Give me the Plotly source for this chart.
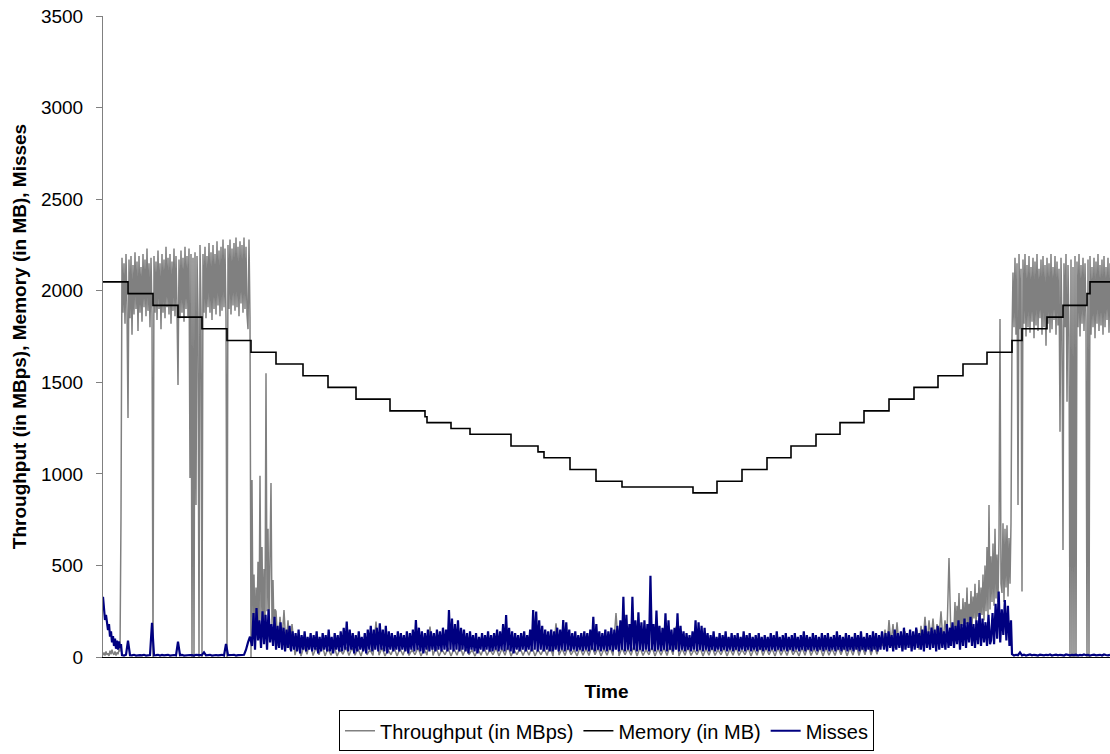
import numpy as np
import plotly.graph_objects as go

# ---------------- data ----------------
# Memory (in MB): step changes at these sample times
memory_t = [0, 25, 50, 75, 99, 124, 148, 173, 200, 225, 253, 287, 322, 324, 348, 367,
            408, 435, 441, 467, 493, 519, 590, 614, 639, 664, 688, 713, 737, 761, 786,
            811, 835, 860, 884, 909, 919, 944, 960, 984, 987, 1007]
memory_mb = [2048, 1984, 1920, 1856, 1792, 1728, 1664, 1600, 1536, 1472, 1408, 1344,
             1312, 1280, 1248, 1216, 1152, 1120, 1088, 1024, 960, 928, 896, 960, 1024,
             1088, 1152, 1216, 1280, 1344, 1408, 1472, 1536, 1600, 1664, 1728, 1792,
             1856, 1920, 1984, 2048, 2048]

# Throughput (in MBps), in time segments (start, end, values)
thr_a_span = (0, 17)
thr_a = [10, 25, 8, 30, 12, 20, 6, 35, 15, 40, 20, 12, 30, 8, 25, 15, 40, 30]
thr_b_span = (18, 148)
thr_b = [766, 2180, 1880, 2150, 1820, 2200, 1900, 1305, 2170, 1850,
         2190, 1760, 2140, 1870, 2210, 1900, 2160, 1780, 2190, 1880,
         2130, 1830, 2200, 1910, 2170, 1860, 2230, 1890, 2150, 1800,
         2180, 1870, 0, 2190, 1880, 2160, 1840, 2220, 1900, 2150,
         1790, 2200, 1880, 2170, 1850, 2240, 1910, 2180, 1870, 2200,
         1820, 2160, 1890, 2230, 1860, 2190, 1900, 1485, 2170, 1850,
         2220, 1880, 2180, 1830, 2240, 1900, 2190, 1860, 2230, 977,
         2200, 0, 2180, 0, 2210, 830, 2190, 1870, 0, 2250,
         1900, 0, 2200, 1880, 2240, 1850, 2190, 1910, 2260, 1880,
         2210, 1840, 2250, 1900, 2200, 1870, 2270, 1920, 2220, 1860,
         2240, 1890, 2280, 1910, 2230, 1850, 0, 2250, 1900, 2280,
         1870, 2230, 1920, 2260, 1890, 2290, 1910, 2240, 1860, 2270,
         1930, 2250, 1880, 2290, 1900, 2240, 1870, 1790, 2280, 1850, 0]
thr_c_span = (149, 172)
thr_c = [966, 120, 450, 80, 380, 150, 520, 100, 990, 200, 600, 130, 480, 160, 1550,
         250, 700, 140, 560, 950, 180, 420, 120, 260]
thr_d1_span = (173, 191)
thr_d1 = [250, 60, 220, 80, 257, 50, 200, 40, 180, 30]
thr_d2_span = (192, 777)
thr_d2 = [10, 80, 5, 60, 15, 90, 8, 50, 12, 70, 6, 45, 10, 60, 5, 40, 15, 55, 8, 50,
          10, 45, 5, 60, 12, 40, 8, 193, 10, 50, 6, 40, 12, 55, 5, 45, 10, 60, 8, 40,
          12, 50, 5, 45, 10, 166, 8, 55, 6, 40, 12, 50, 5, 45, 10, 60, 8, 50, 12, 40,
          5, 45, 10, 55, 8, 40, 12, 50, 6, 45, 10, 60, 5, 40, 12, 50, 8, 45, 10, 55,
          6, 40, 12, 50, 8, 60, 5, 184, 10, 45, 8, 55, 12, 40, 6, 50, 10, 45, 8, 60,
          12, 50, 5, 45, 10, 55, 8, 240, 6, 50, 12, 45, 10, 60, 5, 50, 8, 40, 12, 55,
          6, 45, 10, 50, 8, 60, 12, 166, 5, 45, 10, 55, 8, 40, 12, 50, 6, 45, 10, 55,
          8, 40, 12, 50, 5, 45, 10, 55, 8, 40, 12, 50, 6, 45, 10, 60, 8, 50, 12, 45,
          5, 50, 10, 45, 8, 55, 12, 40, 6, 50, 10, 60, 8, 45, 12, 55, 5, 50, 10, 45,
          8, 55, 12, 60, 6, 50, 10, 70, 8, 60, 12, 80, 10, 70, 15, 90]
thr_e1_span = (780, 848)
thr_e1 = [60, 150, 40, 202, 70, 180, 50, 190, 60, 120, 40, 140, 70, 110, 50, 130, 60,
          150, 40, 170, 80, 220, 60, 200, 90, 210, 70, 180, 100, 250, 80, 200, 120,
          540, 90]
thr_e2_span = (851, 908)
thr_e2 = [150, 300, 120, 280, 160, 350, 130, 260, 170, 320, 140, 300, 180, 380, 150,
          290, 200, 360, 160, 330, 210, 400, 170, 350, 220, 420, 180, 380, 230, 450,
          200, 500, 250, 600, 230, 830, 260, 550, 300, 620, 280, 700, 320, 560, 300,
          650, 1845, 400, 350, 730, 300, 700, 380, 720, 330, 650, 400, 730]
thr_f_span = (909, 1007)
thr_f = [1750, 2100, 1800, 2180, 1760, 2150, 830, 2200, 1790, 2120,
         357, 2170, 1820, 2200, 1750, 2140, 1800, 2190, 1770, 2130,
         1830, 2180, 1740, 2160, 1810, 2200, 1780, 2120, 1850, 2170,
         1760, 2190, 1800, 2140, 1700, 2180, 1820, 2150, 1770, 2200,
         1790, 2130, 1840, 2190, 1760, 2160, 1810, 2120, 1230, 2180,
         1780, 584, 2150, 1800, 2200, 1394, 2140, 1760, 0, 2170,
         0, 2130, 0, 2190, 0, 2160, 1800, 2200, 1750, 2140,
         1820, 2180, 1780, 2150, 1830, 0, 2170, 0, 2190, 1760,
         2130, 1800, 2180, 1740, 2160, 1820, 2200, 1780, 2140, 1810,
         2170, 1760, 2190, 1800, 2130, 1840, 2180, 1770, 2150]

# Misses, in time segments
mis_a_span = (0, 18)
mis_a = [329, 260, 202, 230, 170, 147, 180, 111, 140, 80, 114, 60, 100, 45, 90, 40, 85, 50, 70]
mis_b_span = (19, 147)
mis_b = [10, 8, 12, 89, 10, 9, 12, 8, 11, 10, 9, 12, 8, 10, 11, 187, 9, 10, 12, 8,
         11, 9, 10, 12, 8, 10, 11, 9, 84, 10, 12, 8, 10, 9, 11, 10, 8, 12, 9, 10,
         11, 25, 9, 10, 12, 8, 10, 11, 9, 10, 12, 8, 71, 10, 9, 11, 12, 8, 10, 9,
         11, 12, 40, 80, 111]
mis_c_span = (149, 779)
mis_c = [60, 240, 40, 267, 90, 200, 50, 250, 70, 230, 40, 260, 80, 180, 60, 220, 40, 170, 50, 190,
         40, 160, 30, 150, 50, 170, 30, 140, 40, 130, 30, 150, 20, 120, 40, 140, 30, 110, 40, 130,
         30, 120, 40, 140, 20, 110, 30, 130, 40, 120, 30, 150, 30, 110, 20, 130, 40, 120, 30, 140,
         30, 160, 40, 193, 30, 150, 40, 130, 20, 120, 30, 140, 40, 110, 30, 130, 20, 150, 40, 170,
         30, 150, 40, 160, 30, 184, 40, 150, 30, 170, 20, 140, 40, 130, 30, 120, 40, 140, 30, 130,
         40, 120, 30, 140, 20, 130, 40, 150, 30, 202, 40, 160, 30, 140, 20, 130, 40, 150, 30, 140,
         40, 130, 30, 150, 40, 140, 30, 160, 40, 150, 30, 257, 40, 210, 30, 180, 40, 200, 30, 160,
         40, 150, 30, 130, 20, 140, 40, 120, 30, 130, 20, 110, 40, 130, 30, 120, 40, 140, 30, 120,
         30, 130, 40, 150, 30, 140, 40, 180, 30, 229, 40, 160, 30, 140, 20, 130, 40, 120, 30, 130,
         40, 140, 30, 120, 40, 150, 30, 257, 40, 248, 30, 200, 40, 170, 30, 150, 40, 140, 30, 150,
         30, 140, 40, 160, 30, 150, 40, 202, 30, 190, 40, 150, 30, 130, 40, 140, 30, 120, 40, 130,
         30, 140, 40, 130, 30, 150, 40, 220, 30, 180, 40, 140, 30, 130, 40, 150, 30, 140, 40, 160,
         30, 150, 40, 170, 30, 200, 40, 329, 30, 230, 40, 180, 30, 329, 40, 200, 30, 244, 40, 190,
         30, 200, 40, 180, 30, 444, 40, 180, 30, 253, 40, 170, 30, 160, 40, 238, 30, 200, 40, 150,
         30, 160, 40, 238, 30, 170, 40, 140, 30, 130, 40, 120, 30, 140, 40, 200, 30, 190, 40, 170,
         30, 160, 40, 130, 30, 120, 40, 140, 30, 110, 40, 130, 30, 120, 40, 140, 30, 110, 40, 130,
         30, 120, 40, 130, 30, 110, 40, 140, 30, 120, 40, 130, 30, 110, 40, 120, 30, 130, 40, 110,
         30, 120, 40, 110, 30, 130, 40, 120, 30, 140, 40, 110, 30, 120, 40, 130, 30, 110, 40, 120,
         30, 130, 40, 110, 30, 120, 40, 140, 30, 120, 40, 110, 30, 130, 40, 120, 30, 110, 40, 130,
         30, 120, 40, 130, 30, 110, 40, 120, 30, 140, 40, 120, 30, 110, 40, 130, 30, 120, 40, 110,
         30, 130, 40, 120, 30, 140, 40, 110, 30, 130, 40, 120, 30, 140, 40, 130, 30, 120, 40, 140]
mis_d1_span = (781, 847)
mis_d1 = [40, 130, 30, 140, 50, 120, 30, 150, 40, 130, 50, 140, 30, 160, 40, 130, 50, 150,
          30, 140, 40, 160, 50, 130, 40, 150, 30, 170, 50, 140, 40, 160, 50, 150, 30, 170,
          40, 160, 50, 140, 40, 180, 50, 160]
mis_d2_span = (848, 887)
mis_d2 = [60, 190, 50, 170, 70, 200, 40, 180, 60, 210, 50, 190, 80, 220, 60, 180, 50, 200,
          70, 240, 60, 210, 80, 190, 60, 230, 70]
mis_d3_span = (888, 908)
mis_d3 = [90, 240, 70, 290, 100, 357, 80, 260, 120, 311, 90, 280, 60, 200]
mis_e_span = (909, 1007)
mis_e = [15, 8, 12, 10, 25, 9, 13, 8, 11, 14, 9, 12, 10, 8, 13, 11, 9, 12, 10, 14,
         8, 11, 13, 9, 12, 10, 8, 14, 11, 9, 12, 10, 13, 8, 11, 9, 14, 10, 12, 8,
         11, 13, 9, 10, 12, 8, 14, 11, 9, 12]

y_ticks = [0, 500, 1000, 1500, 2000, 2500, 3000, 3500]


def assemble(parts):
    xs, ys = [], []
    for (t0, t1), vals in parts:
        xs.extend(np.linspace(t0, t1, len(vals)).tolist())
        ys.extend(vals)
    return xs, ys


thr_x, thr_y = assemble([(thr_a_span, thr_a), (thr_b_span, thr_b), (thr_c_span, thr_c),
                         (thr_d1_span, thr_d1), (thr_d2_span, thr_d2), (thr_e1_span, thr_e1),
                         (thr_e2_span, thr_e2), (thr_f_span, thr_f)])
mis_x, mis_y = assemble([(mis_a_span, mis_a), (mis_b_span, mis_b), (mis_c_span, mis_c),
                         (mis_d1_span, mis_d1), (mis_d2_span, mis_d2), (mis_d3_span, mis_d3),
                         (mis_e_span, mis_e)])

fig = go.Figure()
fig.add_trace(go.Scatter(x=thr_x, y=thr_y, mode="lines", name="Throughput (in MBps)",
                         line=dict(color="#808080", width=1.5)))
fig.add_trace(go.Scatter(x=memory_t, y=memory_mb, mode="lines", name="Memory (in MB)",
                         line=dict(color="#000000", width=1.6, shape="hv")))
fig.add_trace(go.Scatter(x=mis_x, y=mis_y, mode="lines", name="Misses",
                         line=dict(color="#000080", width=2.2)))

FONT = "Liberation Sans, Arial, sans-serif"
fig.update_layout(
    width=1110, height=754,
    margin=dict(l=103, r=0, t=16, b=97, autoexpand=False),
    plot_bgcolor="white", paper_bgcolor="white",
    font=dict(family=FONT, size=20, color="black"),
    showlegend=True,
    legend=dict(orientation="h", x=0.5, xanchor="center", y=-0.147, yanchor="bottom",
                bordercolor="black", borderwidth=1, font=dict(size=20),
                itemwidth=30, tracegroupgap=0),
    xaxis=dict(range=[0, 1007], showticklabels=False, ticks="", showline=True,
               linecolor="black", linewidth=1, showgrid=False, zeroline=False,
               title=dict(text="<b>Time</b>", font=dict(size=19), standoff=27)),
    yaxis=dict(range=[0, 3500], tickvals=y_ticks, ticks="outside", ticklen=6,
               tickcolor="#808080", showline=True, linecolor="#808080", linewidth=1,
               showgrid=False, zeroline=False, ticklabelstandoff=9,
               tickfont=dict(size=19),
               title=dict(text="<b>Throughput (in MBps), Memory (in MB), Misses</b>",
                          font=dict(size=19), standoff=9)),
)

fig.write_html("out.html")
